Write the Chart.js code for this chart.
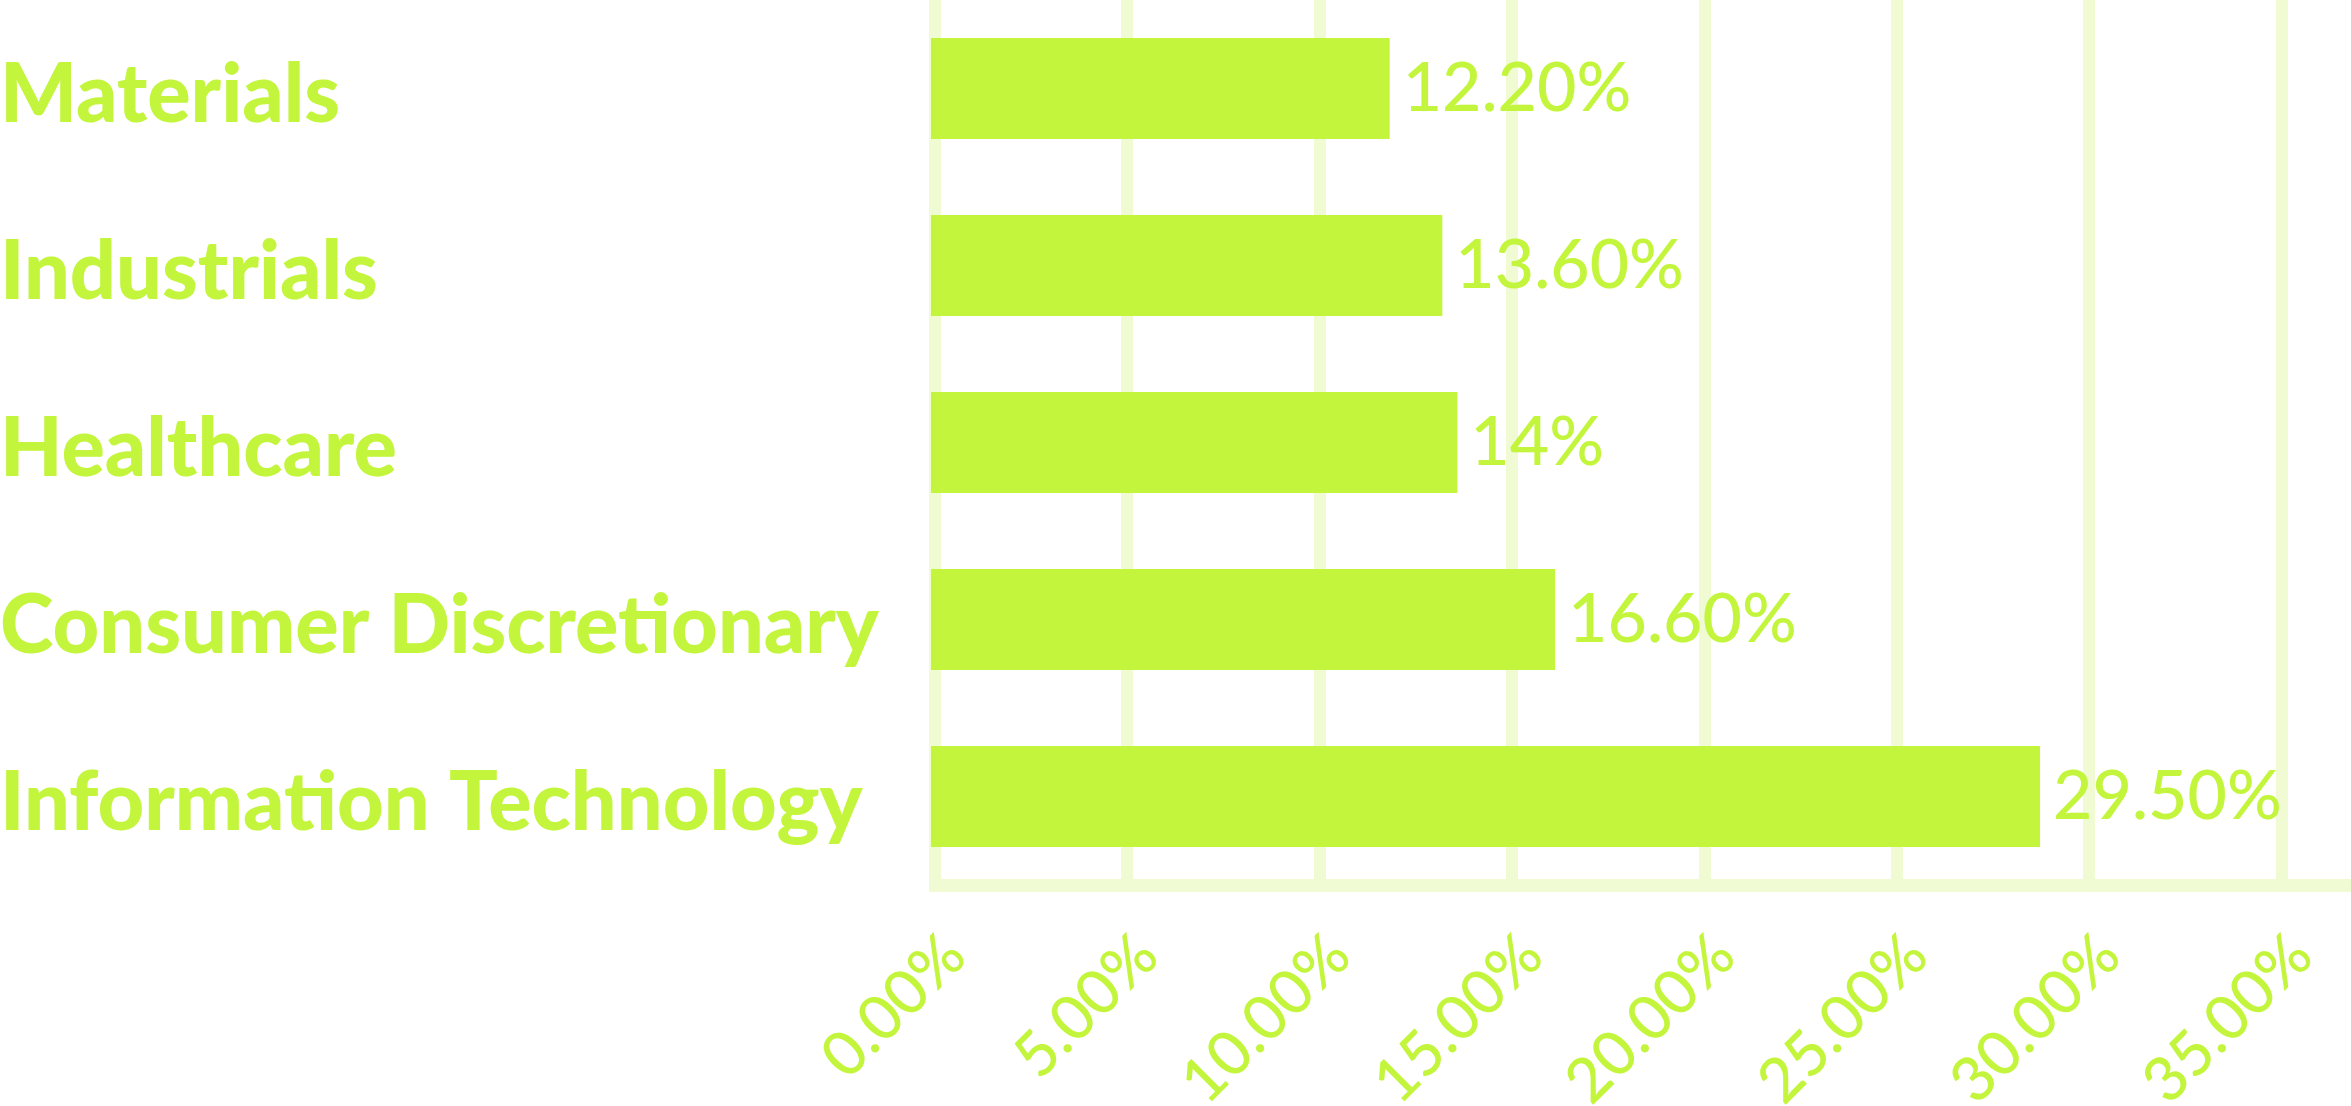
<!DOCTYPE html>
<html>
<head>
<meta charset="utf-8">
<script src="https://cdn.jsdelivr.net/npm/chart.js@4.4.1/dist/chart.umd.min.js"></script>
<style>
  html, body { margin: 0; padding: 0; background: #ffffff; }
  #sectorChart { display: block; }
</style>
</head>
<body>
<canvas id="sectorChart" width="2351" height="1106"></canvas>
<script>
// --- Chart data ---
const sectors = ['Materials', 'Industrials', 'Healthcare', 'Consumer Discretionary', 'Information Technology'];
const weights = [12.2, 13.6, 14, 16.6, 29.5];
const axisTicks = [0, 5, 10, 15, 20, 25, 30, 35];

const lime = '#c3f53c';
const paleLime = '#f0fad3';

function pct(v) {
    // the source shows whole numbers without decimals ("14%")
    return Number.isInteger(v) ? v + '%' : v.toFixed(2) + '%';
}

// draws the value text to the right of each bar
const valueLabels = {
    id: 'valueLabels',
    afterDatasetsDraw(chart) {
        const ctx = chart.ctx;
        const meta = chart.getDatasetMeta(0);
        ctx.save();
        ctx.font = '500 68px Lato';
        ctx.fillStyle = lime;
        ctx.textAlign = 'left';
        ctx.textBaseline = 'middle';
        meta.data.forEach((bar, i) => {
            ctx.fillText(pct(weights[i]), bar.x + 13, bar.y + 1);
        });
        ctx.restore();
    }
};

const ctx = document.getElementById('sectorChart').getContext('2d');
const sectorChart = new Chart(ctx, {
    type: 'bar',
    data: {
        labels: sectors,
        datasets: [{
            data: weights,
            xAxisID: 'bars',
            backgroundColor: lime,
            borderWidth: 0,
            categoryPercentage: 1,
            barPercentage: 0.57,
            clip: false
        }]
    },
    options: {
        indexAxis: 'y',
        responsive: false,
        animation: false,
        layout: { padding: 0 },
        plugins: {
            legend: { display: false },
            tooltip: { enabled: false }
        },
        scales: {
            x: {
                type: 'linear',
                position: 'bottom',
                min: 0,
                max: 36.8,
                afterBuildTicks: (scale) => {
                    scale.ticks = axisTicks.map(v => ({ value: v }));
                },
                afterFit: (scale) => {
                    scale.height = 221;
                    scale.paddingLeft = 0;
                    scale.paddingRight = 0;
                },
                grid: {
                    color: paleLime,
                    lineWidth: 12,
                    drawTicks: false
                },
                border: { display: true, color: paleLime, width: 13 },
                ticks: {
                    autoSkip: false,
                    minRotation: 45,
                    maxRotation: 45,
                    padding: 34,
                    labelOffset: 20,
                    color: lime,
                    font: { family: 'Lato', size: 62, weight: '500' },
                    callback: (v) => Number(v).toFixed(2) + '%'
                }
            },
            // the bars in the source run on a slightly shorter scale than the grid
            bars: {
                type: 'linear',
                display: false,
                min: 0.106,
                max: 37.77
            },
            y: {
                type: 'category',
                afterFit: (scale) => {
                    scale.width = 935;
                    scale.paddingTop = 0;
                    scale.paddingBottom = 0;
                },
                grid: { display: false, drawTicks: false },
                border: { display: false },
                ticks: {
                    crossAlign: 'far',
                    labelOffset: 7,
                    color: lime,
                    font: { family: 'Lato', size: 81, weight: '900' }
                }
            }
        }
    },
    plugins: [valueLabels]
});
</script>
</body>
</html>
